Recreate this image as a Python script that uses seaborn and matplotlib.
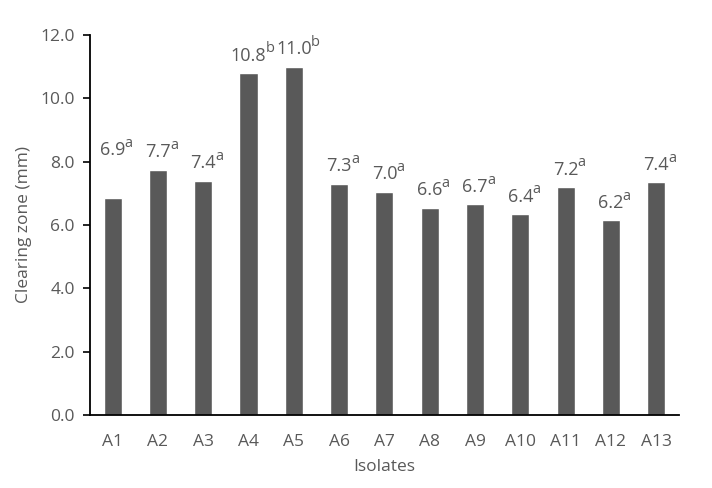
import matplotlib
matplotlib.use('Agg')
import matplotlib.pyplot as plt
import pandas as pd
import seaborn as sns

# Valores
isolates = ['A1', 'A2', 'A3', 'A4', 'A5', 'A6', 'A7', 'A8', 'A9', 'A10', 'A11', 'A12', 'A13']
clearing = [6.85, 7.75, 7.4, 10.8, 11.0, 7.3, 7.05, 6.55, 6.65, 6.35, 7.2, 6.15, 7.35]
labels = ['6.9', '7.7', '7.4', '10.8', '11.0', '7.3', '7.0', '6.6', '6.7', '6.4', '7.2', '6.2', '7.4']
letters = ['a', 'a', 'a', 'b', 'b', 'a', 'a', 'a', 'a', 'a', 'a', 'a', 'a']

df = pd.DataFrame({'isolate': isolates, 'value': clearing})

sns.set_style('white')
plt.rcParams['font.family'] = ['Open Sans', 'DejaVu Sans']

grey = '#595959'

fig = plt.figure(figsize=(7.12, 4.88), dpi=100)
ax = fig.add_axes([0.1264, 0.1496, 0.827, 0.7787])

sns.barplot(data=df, x='isolate', y='value', color=grey, saturation=1,
            width=0.4, ax=ax)

# Etiquetas de datos: numero centrado sobre la barra y letra en superindice
raise_pts = {'A1': 22}  # la etiqueta de A1 esta mas arriba en el original
for i, (lab, let) in enumerate(zip(labels, letters)):
  num = ax.annotate(lab, (i, clearing[i]),
                    xytext=(0, 6 + raise_pts.get(isolates[i], 0)),
                    textcoords='offset points', ha='center', va='bottom',
                    fontsize=13, color=grey)
  ax.annotate(let, xy=(1, 0), xycoords=num, xytext=(-0.5, 6),
              textcoords='offset points', ha='left', va='bottom',
              fontsize=10.5, color=grey)

ax.set_ylim(0, 12)
ax.set_xlim(-0.5, 12.5)
ax.set_yticks([0, 2, 4, 6, 8, 10, 12])
ax.set_yticklabels([f'{v:.1f}' for v in [0, 2, 4, 6, 8, 10, 12]])

for s in ['top', 'right']:
  ax.spines[s].set_visible(False)
for s in ['left', 'bottom']:
  ax.spines[s].set_color('black')
  ax.spines[s].set_linewidth(1.3)

ax.tick_params(axis='y', left=True, length=5, width=1.2, color='black',
               labelsize=12.5, labelcolor=grey, pad=6)
ax.tick_params(axis='x', bottom=False, labelsize=12.5, labelcolor=grey, pad=10)

ax.set_xlabel('Isolates', fontsize=12.5, color=grey, labelpad=7)
ax.set_ylabel('Clearing zone (mm)', fontsize=12.5, color=grey, labelpad=6)

fig.savefig('out.png', dpi=100)
